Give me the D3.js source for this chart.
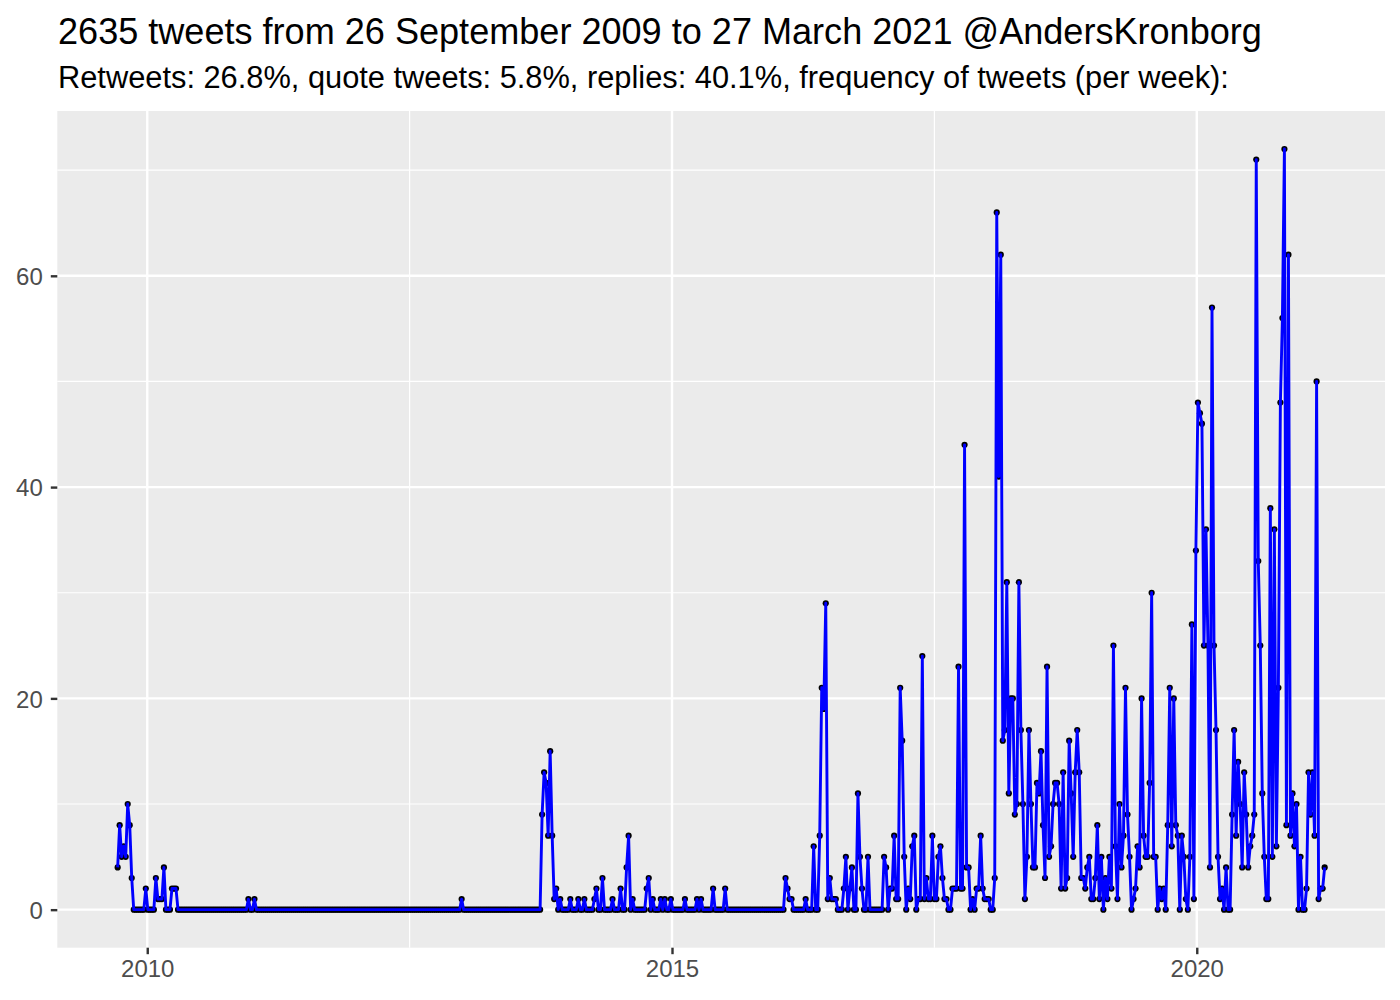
<!DOCTYPE html>
<html>
<head>
<meta charset="utf-8">
<script src="https://cdn.jsdelivr.net/npm/d3@7"></script>
<style>
  body { margin: 0; background: #fff; }
  svg { display: block; }
  text { font-family: "Liberation Sans", Arial, Helvetica, sans-serif; }
</style>
</head>
<body>
<svg id="chart"></svg>
<script>
// titles
const titleText = "2635 tweets from 26 September 2009 to 27 March 2021 @AndersKronborg";
const subtitleText = "Retweets: 26.8%, quote tweets: 5.8%, replies: 40.1%, frequency of tweets (per week):";

// first week of the series (weeks start on Sunday)
const firstWeek = "2009-09-20";

// axis breaks
const yBreaks = [0, 20, 40, 60];
const yMinorBreaks = [10, 30, 50, 70];
const xBreakYears = [2010, 2015, 2020];

// tweets per week (one value per week)
const weeklyTweets = [
  4, 8, 5, 6, 5, 10, 8, 3, 0, 0,      // 0
  0, 0, 0, 0, 2, 0, 0, 0, 0, 3,       // 10
  1, 1, 1, 4, 0, 0, 0, 2, 2, 2,       // 20
  0, 0, 0, 0, 0, 0, 0, 0, 0, 0,       // 30
  0, 0, 0, 0, 0, 0, 0, 0, 0, 0,       // 40
  0, 0, 0, 0, 0, 0, 0, 0, 0, 0,       // 50
  0, 0, 0, 0, 0, 1, 0, 0, 1, 0,       // 60
  0, 0, 0, 0, 0, 0, 0, 0, 0, 0,       // 70
  0, 0, 0, 0, 0, 0, 0, 0, 0, 0,       // 80
  0, 0, 0, 0, 0, 0, 0, 0, 0, 0,       // 90
  0, 0, 0, 0, 0, 0, 0, 0, 0, 0,       // 100
  0, 0, 0, 0, 0, 0, 0, 0, 0, 0,       // 110
  0, 0, 0, 0, 0, 0, 0, 0, 0, 0,       // 120
  0, 0, 0, 0, 0, 0, 0, 0, 0, 0,       // 130
  0, 0, 0, 0, 0, 0, 0, 0, 0, 0,       // 140
  0, 0, 0, 0, 0, 0, 0, 0, 0, 0,       // 150
  0, 0, 0, 0, 0, 0, 0, 0, 0, 0,       // 160
  0, 1, 0, 0, 0, 0, 0, 0, 0, 0,       // 170
  0, 0, 0, 0, 0, 0, 0, 0, 0, 0,       // 180
  0, 0, 0, 0, 0, 0, 0, 0, 0, 0,       // 190
  0, 0, 0, 0, 0, 0, 0, 0, 0, 0,       // 200
  0, 9, 13, 12, 7, 15, 7, 1, 2, 0,    // 210
  1, 0, 0, 0, 0, 1, 0, 0, 0, 1,       // 220
  0, 0, 1, 0, 0, 0, 0, 1, 2, 0,       // 230
  0, 3, 0, 0, 0, 0, 1, 0, 0, 0,       // 240
  2, 0, 0, 4, 7, 0, 1, 0, 0, 0,       // 250
  0, 0, 0, 2, 3, 0, 1, 0, 0, 0,       // 260
  1, 0, 1, 0, 0, 1, 0, 0, 0, 0,       // 270
  0, 0, 1, 0, 0, 0, 0, 0, 1, 0,       // 280
  1, 0, 0, 0, 0, 0, 2, 0, 0, 0,       // 290
  0, 0, 2, 0, 0, 0, 0, 0, 0, 0,       // 300
  0, 0, 0, 0, 0, 0, 0, 0, 0, 0,       // 310
  0, 0, 0, 0, 0, 0, 0, 0, 0, 0,       // 320
  0, 0, 3, 2, 1, 1, 0, 0, 0, 0,       // 330
  0, 0, 1, 0, 0, 0, 6, 0, 0, 7,       // 340
  21, 19, 29, 1, 3, 1, 1, 1, 0, 0,    // 350
  0, 2, 5, 0, 2, 4, 0, 0, 11, 5,      // 360
  2, 0, 0, 5, 0, 0, 0, 0, 0, 0,       // 370
  0, 5, 4, 0, 2, 2, 7, 1, 1, 21,      // 380
  16, 5, 0, 2, 1, 6, 7, 0, 1, 1,      // 390
  24, 1, 3, 1, 1, 7, 1, 1, 5, 6,      // 400
  3, 1, 1, 0, 0, 2, 2, 2, 23, 2,      // 410
  2, 44, 4, 4, 0, 1, 0, 2, 2, 7,      // 420
  2, 1, 1, 1, 0, 0, 3, 66, 41, 62,    // 430
  16, 17, 31, 11, 20, 20, 9, 10, 31, 17, // 440
  10, 1, 5, 17, 10, 4, 4, 12, 11, 15, // 450
  8, 3, 23, 5, 6, 10, 12, 12, 10, 2,  // 460
  13, 2, 3, 16, 11, 5, 13, 17, 13, 3, // 470
  3, 2, 4, 5, 1, 1, 3, 8, 1, 5,       // 480
  0, 3, 1, 5, 2, 25, 6, 1, 10, 4,     // 490
  7, 21, 9, 5, 0, 1, 2, 6, 4, 20,     // 500
  7, 5, 5, 12, 30, 5, 5, 0, 2, 1,     // 510
  2, 0, 8, 21, 6, 20, 8, 7, 0, 7,     // 520
  5, 1, 0, 5, 27, 1, 34, 48, 47, 46,  // 530
  25, 36, 25, 4, 57, 25, 17, 5, 1, 2, // 540
  0, 4, 0, 0, 9, 17, 7, 14, 10, 4,    // 550
  13, 9, 4, 6, 7, 9, 71, 33, 25, 11,  // 560
  5, 1, 1, 38, 5, 36, 6, 21, 48, 56,  // 570
  72, 8, 62, 7, 11, 6, 10, 0, 5, 0,   // 580
  0, 2, 13, 9, 13, 7, 50, 1, 2, 2,    // 590
  4                                   // 600
];

const W = 1400, H = 1000;
const panel = {left: 57.3, right: 1385, top: 111, bottom: 947.7};

const svg = d3.select("#chart").attr("width", W).attr("height", H);

const start = new Date(firstWeek + "T00:00:00Z");
const data = weeklyTweets.map(function(v, i) {
  return {date: d3.utcDay.offset(start, 7 * i), n: v};
});

// ggplot style 5% expansion on both axes
const xExt = d3.extent(data, d => d.date);
const xPad = (xExt[1] - xExt[0]) * 0.05;
const x = d3.scaleUtc()
    .domain([new Date(+xExt[0] - xPad), new Date(+xExt[1] + xPad)])
    .range([panel.left, panel.right]);

const yMax = d3.max(data, d => d.n);
const y = d3.scaleLinear()
    .domain([-yMax * 0.05, yMax * 1.05])
    .range([panel.bottom, panel.top]);

const xBreaks = xBreakYears.map(yr => new Date(Date.UTC(yr, 0, 1)));
const xMinor = [];
for (let i = 0; i < xBreaks.length - 1; i++) {
  xMinor.push(new Date((+xBreaks[i] + +xBreaks[i + 1]) / 2));
}

// panel background
svg.append("rect")
    .attr("x", panel.left).attr("y", panel.top)
    .attr("width", panel.right - panel.left)
    .attr("height", panel.bottom - panel.top)
    .attr("fill", "#EBEBEB");

const grid = svg.append("g");
// minor grid
grid.selectAll(".ymin").data(yMinorBreaks.filter(v => y(v) > panel.top)).enter()
  .append("line")
    .attr("x1", panel.left).attr("x2", panel.right)
    .attr("y1", d => y(d)).attr("y2", d => y(d))
    .attr("stroke", "#fff").attr("stroke-width", 1.2);
grid.selectAll(".xmin").data(xMinor).enter()
  .append("line")
    .attr("x1", d => x(d)).attr("x2", d => x(d))
    .attr("y1", panel.top).attr("y2", panel.bottom)
    .attr("stroke", "#fff").attr("stroke-width", 1.2);
// major grid
grid.selectAll(".ymaj").data(yBreaks).enter()
  .append("line")
    .attr("x1", panel.left).attr("x2", panel.right)
    .attr("y1", d => y(d)).attr("y2", d => y(d))
    .attr("stroke", "#fff").attr("stroke-width", 2.4);
grid.selectAll(".xmaj").data(xBreaks).enter()
  .append("line")
    .attr("x1", d => x(d)).attr("x2", d => x(d))
    .attr("y1", panel.top).attr("y2", panel.bottom)
    .attr("stroke", "#fff").attr("stroke-width", 2.4);

// points first, then the line over them
svg.append("g").selectAll("circle")
  .data(data).enter()
  .append("circle")
    .attr("cx", d => x(d.date))
    .attr("cy", d => y(d.n))
    .attr("r", 3.1)
    .attr("fill", "#000");

svg.append("path")
    .datum(data)
    .attr("fill", "none")
    .attr("stroke", "#0000FF")
    .attr("stroke-width", 2.9)
    .attr("stroke-linejoin", "round")
    .attr("d", d3.line().x(d => x(d.date)).y(d => y(d.n)));

// axes
const yAxis = svg.append("g")
    .attr("transform", "translate(" + panel.left + ",0)")
    .call(d3.axisLeft(y).tickValues(yBreaks).tickSize(6.5).tickPadding(8));
const xAxis = svg.append("g")
    .attr("transform", "translate(0," + panel.bottom + ")")
    .call(d3.axisBottom(x).tickValues(xBreaks).tickSize(6.5).tickPadding(6)
      .tickFormat(d3.utcFormat("%Y")));
[yAxis, xAxis].forEach(function(a) {
  a.select(".domain").remove();
  a.selectAll(".tick line").attr("stroke", "#333333").attr("stroke-width", 2.4);
  a.selectAll(".tick text")
      .attr("fill", "#4D4D4D")
      .style("font-size", "24px")
      .style("font-family", '"Liberation Sans", Arial, Helvetica, sans-serif');
});
yAxis.selectAll(".tick text").attr("dy", "0.36em");

// titles
svg.append("text")
    .attr("x", 58).attr("y", 43.5)
    .style("font-size", "36.1px")
    .attr("fill", "#000")
    .text(titleText);
svg.append("text")
    .attr("x", 58).attr("y", 87.5)
    .style("font-size", "30.8px")
    .attr("fill", "#000")
    .text(subtitleText);
</script>
</body>
</html>
